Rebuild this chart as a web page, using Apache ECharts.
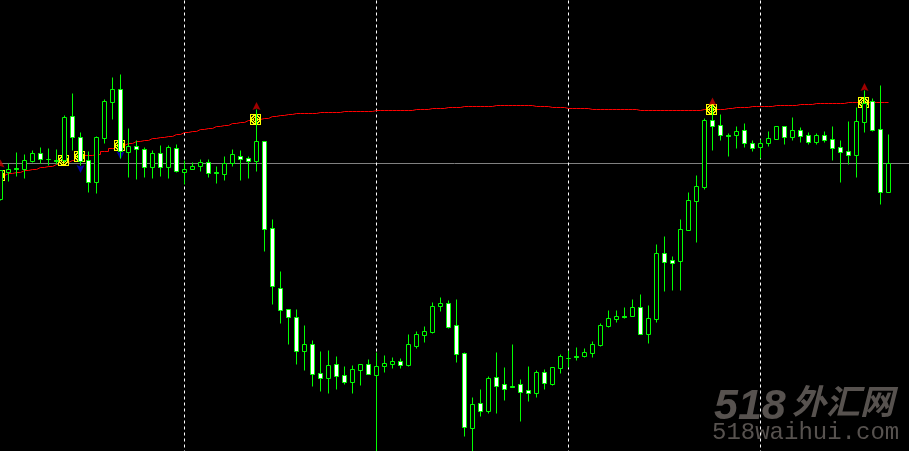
<!DOCTYPE html>
<html>
<head>
<meta charset="utf-8">
<style>html,body{margin:0;padding:0;background:#000}#c{width:909px;height:451px}</style>
<script src="https://cdn.jsdelivr.net/npm/echarts@6/dist/echarts.min.js"></script>
</head>
<body>
<div id="c"></div>
<script>
// Levels are read straight down the picture, so the value axis is inverted.
const opens = [199,172,168,169,161,153,159,160,160,116,137,160,182,138,102,89,152,146,149,167,153,167,148,172,169,166,162,172,174,163,156,158,161,141,228,288,309,317,351,344,373,378,364,375,382,370,364,375,366,364,361,365,346,335,332,306,303,325,353,428,403,411,377,384,386,384,390,393,372,384,368,358,356,356,353,345,326,319,316,316,307,334,319,253,260,261,230,201,187,120,125,135,135,130,143,147,143,139,126,137,130,135,142,135,139,147,151,155,122,101,129,192];
const closes = [170,169,169,160,153,159,159,161,117,137,161,182,137,101,89,151,146,149,167,153,167,147,171,169,166,162,173,173,163,154,159,161,141,229,286,310,317,351,344,374,378,365,376,382,369,364,374,366,363,361,365,344,334,331,306,303,327,354,427,404,411,378,386,389,387,392,393,372,383,367,356,358,357,352,344,325,318,316,317,307,334,318,253,262,263,229,200,186,120,126,135,136,131,143,148,143,138,126,137,130,136,142,135,140,148,152,155,121,103,130,192,163];
const highs = [170,163,152,154,150,147,148,149,115,93,132,151,136,99,77,74,128,140,147,150,145,145,144,160,162,159,159,166,156,149,150,156,109,141,219,271,309,309,325,340,351,350,356,366,365,364,359,352,355,357,358,334,331,326,302,297,300,299,352,397,389,376,352,367,344,379,366,370,369,367,354,350,347,348,341,323,310,310,307,299,294,305,244,236,256,219,192,175,118,105,114,133,126,123,140,139,131,126,126,117,127,132,133,131,126,140,121,107,90,98,85,134];
const lows = [200,181,176,178,162,163,165,164,162,150,165,192,193,143,119,158,177,179,177,178,176,178,172,184,169,171,177,183,180,166,180,178,171,251,304,323,344,364,370,386,391,393,389,384,393,385,374,470,372,368,368,366,348,342,333,311,328,362,436,470,416,413,413,400,387,421,401,397,389,385,373,367,360,357,357,346,327,322,318,316,334,343,322,291,290,290,230,242,189,150,140,156,148,147,151,158,146,139,144,140,142,144,144,142,160,182,164,177,132,131,204,192];
const movingAverage = [175,173,172,170,169,167,166,164,162,160,158,155,154,151,148,145,143,141,140,138,137,136,134,132,131,129,128,126,125,123,122,120,119,118,116,115,114,113,113,113,112,112,112,111,111,111,111,110,110,110,110,110,109,109,108,108,107,107,106,106,106,106,105,105,105,105,105,106,106,107,107,108,108,108,109,109,109,109,109,109,110,110,110,110,110,110,110,110,109,109,109,108,107,107,106,106,106,105,105,105,104,104,103,103,103,103,102,102,102,102,102,102];
const signalBars = [0,8,10,15,32,89,108];
const signalLevels = [175.5,160.5,156.5,145.5,119.5,109.5,102.5];
const upArrowBars = [0,32,89,108];
const upArrowLevels = [163,105.5,101,86.5];
const downArrowBars = [10,15];
const downArrowLevels = [168.5,155];
const separatorBars = [23,47,71,95];
const priceLine = 163;
const slotCount = 115;
const categories = Array.from({length: slotCount}, (_, i) => String(i));
const candles = opens.map((o, i) => [o, closes[i], highs[i], lows[i]]);

const signalPattern = [
  "...........",
  ".##.....##.",
  ".#..#.#..#.",
  "...#...#...",
  "..#.#.#.#..",
  "....#.#....",
  "..#.#.#.#..",
  "...#...#...",
  ".#..#.#..#.",
  ".##.....##.",
  "..........."
];
const arrowPath = 'path://M4 0 L8 8 L4 6.5 L0 8 Z';

const chart = echarts.init(document.getElementById('c'), null, {renderer: 'canvas'});
chart.setOption({
  animation: false,
  backgroundColor: '#000',
  grid: {left: -3.5, top: 0.5, width: slotCount * 8, height: 451, outerBoundsMode: 'none'},
  xAxis: {type: 'category', data: categories, show: false, boundaryGap: true},
  yAxis: {type: 'value', min: 0, max: 451, inverse: true, show: false, splitLine: {show: false}},
  graphic: [
    {type: 'text', z: 0, left: 714, top: 386, style: {text: '518', fill: '#57524f', font: 'italic bold 43px "Liberation Sans"'}},
    {type: 'text', z: 0, left: 792, top: 384, style: {text: '外汇网', fill: '#57524f', font: 'italic bold 34px "Noto Sans CJK SC"'}},
    {type: 'text', z: 0, left: 712, top: 421, style: {text: '518waihui.com', fill: '#57524f', font: '24px "Liberation Mono"'}}
  ],
  series: [
    {
      type: 'line', z: 1, data: [], silent: true,
      markLine: {
        silent: true, symbol: 'none', animation: false, z: 1,
        label: {show: false},
        data: [
          {yAxis: priceLine, lineStyle: {color: '#808080', width: 1, type: 'solid'}},
          ...separatorBars.map(b => ({xAxis: b, lineStyle: {color: '#fff', width: 1, type: [3, 3]}}))
        ]
      }
    },
    {
      type: 'line', z: 2, data: movingAverage, step: 'middle',
      symbol: 'none', silent: true, lineStyle: {color: '#ff0000', width: 1}
    },
    {
      type: 'custom', z: 3, silent: true,
      data: signalBars.map((b, i) => [b, signalLevels[i]]),
      renderItem: (params, api) => {
        const p = api.coord([api.value(0), api.value(1)]);
        const x0 = Math.round(p[0] - 6.5), y0 = Math.round(p[1] - 6);
        const children = [{type: 'rect', shape: {x: x0, y: y0, width: 11, height: 11}, style: {fill: '#ffff00'}}];
        signalPattern.forEach((row, r) => row.split('').forEach((c, col) => {
          if (c === '#') children.push({type: 'rect', shape: {x: x0 + col, y: y0 + r, width: 1, height: 1}, style: {fill: '#1a1a00'}});
        }));
        return {type: 'group', children};
      }
    },
    {
      type: 'scatter', z: 3, silent: true, symbol: arrowPath, symbolSize: [8, 8],
      data: upArrowBars.map((b, i) => [b, upArrowLevels[i]]),
      itemStyle: {color: '#c80000'}
    },
    {
      type: 'scatter', z: 3, silent: true, symbol: arrowPath, symbolSize: [8, 8], symbolRotate: 180,
      data: downArrowBars.map((b, i) => [b, downArrowLevels[i]]),
      itemStyle: {color: '#0000c8'}
    },
    {
      type: 'candlestick', z: 4, silent: true, barWidth: 4, data: candles,
      itemStyle: {
        color: '#ffffff', color0: '#000000',
        borderColor: '#00ff00', borderColor0: '#00ff00', borderColorDoji: '#00ff00', borderWidth: 1
      }
    }
  ]
});
</script>
</body>
</html>
